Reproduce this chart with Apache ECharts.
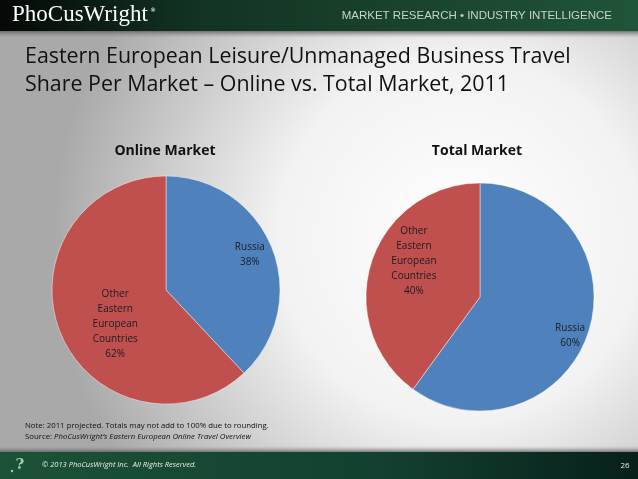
<!DOCTYPE html>
<html>
<head>
<meta charset="utf-8">
<script src="https://cdn.jsdelivr.net/npm/echarts@6/dist/echarts.min.js"></script>
<style>
html,body{margin:0;padding:0;background:#fff;}
#chart{width:638px;height:479px;}
</style>
</head>
<body>
<div id="chart"></div>
<script>
// ---- data ----
const categories = ['Russia', 'Other\nEastern\nEuropean\nCountries'];
const onlineValues = [38, 62];
const totalValues = [60, 40];
const pieTitles = ['Online Market', 'Total Market'];
const titleLines = ['Eastern European Leisure/Unmanaged Business Travel', 'Share Per Market \u2013 Online vs. Total Market, 2011'];
const noteText = 'Note: 2011 projected. Totals may not add to 100% due to rounding.';
const sourcePrefix = 'Source: ';
const sourceText = 'PhoCusWright\u2019s Eastern European Online Travel Overview';
const copyrightText = '\u00A9 2013 PhoCusWright Inc.  All Rights Reserved.';
const pageNumber = '26';
const brandName = 'PhoCusWright';
const tagline = 'MARKET RESEARCH \u2022 INDUSTRY INTELLIGENCE';

const sliceColors = ['#4f81bd', '#c0504d'];
// label nudges (relative to default inside position), per pie / slice
const labelNudge = [
  [[28, -13], [5, 12]],
  [[33, 20], [-9, -17]]
];

const chart = echarts.init(document.getElementById('chart'), null, {renderer: 'canvas'});

function pieSeries(values, center, idx) {
  return {
    type: 'pie',
    center: center,
    radius: 114,
    startAngle: 90,
    clockwise: true,
    silent: true,
    avoidLabelOverlap: false,
    itemStyle: {borderColor: 'rgba(255,255,255,0.55)', borderWidth: 0.8},
    label: {
      show: true,
      position: 'inside',
      formatter: '{b}\n{c}%',
      fontFamily: 'Open Sans',
      fontSize: 10,
      lineHeight: 15,
      color: '#1b1b24',
      align: 'center'
    },
    labelLine: {show: false},
    labelLayout: function (p) {
      const n = labelNudge[idx][p.dataIndex];
      return {dx: n[0], dy: n[1]};
    },
    data: categories.map((c, i) => ({name: c, value: values[i], itemStyle: {color: sliceColors[i]}}))
  };
}

const option = {
  animation: false,
  backgroundColor: {
    type: 'radial', x: 0.72, y: 0.5, r: 0.85,
    colorStops: [
      {offset: 0, color: '#ffffff'},
      {offset: 0.45, color: '#f2f2f2'},
      {offset: 1, color: '#a9a9a9'}
    ]
  },
  graphic: [
    // header band
    {type: 'rect', shape: {x: 0, y: 0, width: 638, height: 31}, z: 1,
      style: {fill: {type: 'linear', x: 0, y: 0, x2: 1, y2: 0, colorStops: [
        {offset: 0, color: '#050806'}, {offset: 0.3, color: '#123322'}, {offset: 1, color: '#1f5538'}]}}},
    {type: 'rect', shape: {x: 0, y: 31, width: 638, height: 7}, z: 1,
      style: {fill: {type: 'linear', x: 0, y: 0, x2: 0, y2: 1, colorStops: [
        {offset: 0, color: 'rgba(90,90,90,0.8)'}, {offset: 1, color: 'rgba(150,150,150,0)'}]}}},
    {type: 'text', x: 12, y: 15, z: 2, style: {text: brandName, fill: '#ffffff', font: '23px "Liberation Serif"', verticalAlign: 'middle'}},
    {type: 'text', x: 150, y: 10, z: 2, style: {text: '\u00AE', fill: '#ffffff', font: '6px "DejaVu Sans"', verticalAlign: 'middle'}},
    {type: 'text', x: 612, y: 16, z: 2, style: {text: tagline, fill: '#c9d3cc', font: '11.5px "Liberation Sans"', align: 'right', verticalAlign: 'middle'}},
    // title
    {type: 'text', x: 25, y: 57, z: 2, style: {text: titleLines[0], fill: '#111111', font: '21.4px "Open Sans"', verticalAlign: 'middle'}},
    {type: 'text', x: 25, y: 85, z: 2, style: {text: titleLines[1], fill: '#111111', font: '21.4px "Open Sans"', verticalAlign: 'middle'}},
    // pie titles
    {type: 'text', x: 165, y: 151, z: 2, style: {text: pieTitles[0], fill: '#111111', font: 'bold 14px "Open Sans"', align: 'center', verticalAlign: 'middle'}},
    {type: 'text', x: 477, y: 151, z: 2, style: {text: pieTitles[1], fill: '#111111', font: 'bold 14px "Open Sans"', align: 'center', verticalAlign: 'middle'}},
    // notes
    {type: 'text', x: 25, y: 426, z: 2, style: {text: noteText, fill: '#111111', font: '7.8px "Open Sans"', verticalAlign: 'middle'}},
    {type: 'text', x: 25, y: 437, z: 2, style: {text: sourcePrefix + '{i|' + sourceText + '}', fill: '#111111', font: '7.8px "Open Sans"', verticalAlign: 'middle',
      rich: {i: {fontStyle: 'italic', fontSize: 7.8, fontFamily: 'Open Sans', fill: '#111111'}}}},
    // footer
    {type: 'rect', shape: {x: 0, y: 446, width: 638, height: 6}, z: 1,
      style: {fill: {type: 'linear', x: 0, y: 0, x2: 0, y2: 1, colorStops: [
        {offset: 0, color: 'rgba(150,150,150,0)'}, {offset: 1, color: 'rgba(80,80,80,0.7)'}]}}},
    {type: 'rect', shape: {x: 0, y: 452, width: 638, height: 27}, z: 1,
      style: {fill: {type: 'linear', x: 0, y: 0, x2: 1, y2: 0, colorStops: [
        {offset: 0, color: '#1c5237'}, {offset: 0.6, color: '#134030'}, {offset: 1, color: '#07201a'}]}}},
    {type: 'text', x: 20, y: 465, z: 2, style: {text: '?', fill: '#9fd0a8', font: 'bold 15px "DejaVu Serif"', align: 'center', verticalAlign: 'middle'}},
    {type: 'circle', shape: {cx: 12, cy: 471, r: 1.2}, z: 2, style: {fill: '#9fd0a8'}},
    {type: 'text', x: 42, y: 465, z: 2, style: {text: copyrightText, fill: '#e8efe9', font: 'italic 7.5px "Open Sans"', verticalAlign: 'middle'}},
    {type: 'text', x: 625, y: 466, z: 2, style: {text: pageNumber, fill: '#e8efe9', font: '8px "Open Sans"', align: 'center', verticalAlign: 'middle'}}
  ],
  series: [
    pieSeries(onlineValues, [166, 290], 0),
    pieSeries(totalValues, [480, 297], 1)
  ]
};
chart.setOption(option);
</script>
</body>
</html>
